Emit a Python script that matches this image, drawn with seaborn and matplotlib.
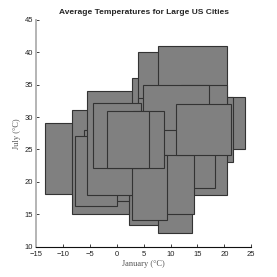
import matplotlib
matplotlib.use("Agg")
import matplotlib.pyplot as plt
import seaborn as sns
import numpy as np

# one rectangle per city: January low..high on x, July low..high on y (deg C)
# listed in drawing order, later ones are painted on top
jan_low = [-13.3, 2.24, -8.28, -6.1, -7.72, -5.55, 2.86, 3.92, 3.9, 15.3, 12.0, 12.0,
           12.0, 7.74, 8.0, 2.8, 7.74, 12.0, 4.96, -4.44, 3.0, -1.72, 11.1]
jan_high = [-4.0, 9.0, 2.24, 2.24, 0.07, 4.5, 12.8, 14.4, 12.0, 23.8, 21.67, 20.55,
            18.3, 13.94, 14.42, 9.41, 20.55, 20.55, 17.2, 4.47, 8.85, 6.07, 21.2]
jul_low = [18.15, 13.3, 15.08, 17.1, 16.25, 18.05, 24.0, 28.5, 28.5, 25.1, 23.1, 18.05,
           19.1, 12.15, 15.1, 14.2, 30.0, 26.0, 28.05, 22.1, 22.1, 22.1, 24.1]
jul_high = [29.08, 18.0, 31.1, 28.05, 27.0, 34.05, 36.0, 40.0, 33.0, 33.05, 33.05, 28.0,
            27.0, 21.7, 24.1, 24.1, 41.0, 35.0, 35.0, 32.1, 31.0, 31.0, 32.0]

x_ticks = list(range(-15, 26, 5))
y_ticks = list(range(10, 46, 5))

sns.set_theme(style="ticks")
plt.rcParams['font.family'] = ['Liberation Sans Narrow', 'Liberation Sans', 'DejaVu Sans']
plt.rcParams['axes.unicode_minus'] = True

fig = plt.figure(figsize=(2.77, 2.77), dpi=100)
ax = fig.add_axes([0.130, 0.109, 0.777, 0.820])

ax.bar(jan_low, height=np.subtract(jul_high, jul_low), width=np.subtract(jan_high, jan_low),
       bottom=jul_low, align='edge', color='#808080', edgecolor='#333333', linewidth=0.8)

ax.set_xlim(-15, 25)
ax.set_ylim(10, 45)
ax.set_xticks(x_ticks)
ax.set_yticks(y_ticks)
ax.tick_params(direction='in', length=2.2, width=0.6, labelsize=5.5, colors='#222222')
ax.tick_params(axis='x', pad=3.2)
ax.tick_params(axis='y', pad=2)

sns.despine(ax=ax)
ax.spines['left'].set_color('#b4b4b4')
ax.spines['left'].set_linewidth(1.4)
ax.spines['bottom'].set_color('#111111')
ax.spines['bottom'].set_linewidth(0.8)

ax.set_title("Average Temperatures for Large US Cities", fontsize=6, fontweight='bold', pad=4)
ax.set_xlabel("January (°C)", family=['Liberation Serif', 'DejaVu Serif'], fontsize=6,
              color='#555555', labelpad=1.5)
ax.set_ylabel("July (°C)", family=['Liberation Serif', 'DejaVu Serif'], fontsize=6,
              color='#555555', labelpad=3)

fig.savefig("out.png", dpi=100)
